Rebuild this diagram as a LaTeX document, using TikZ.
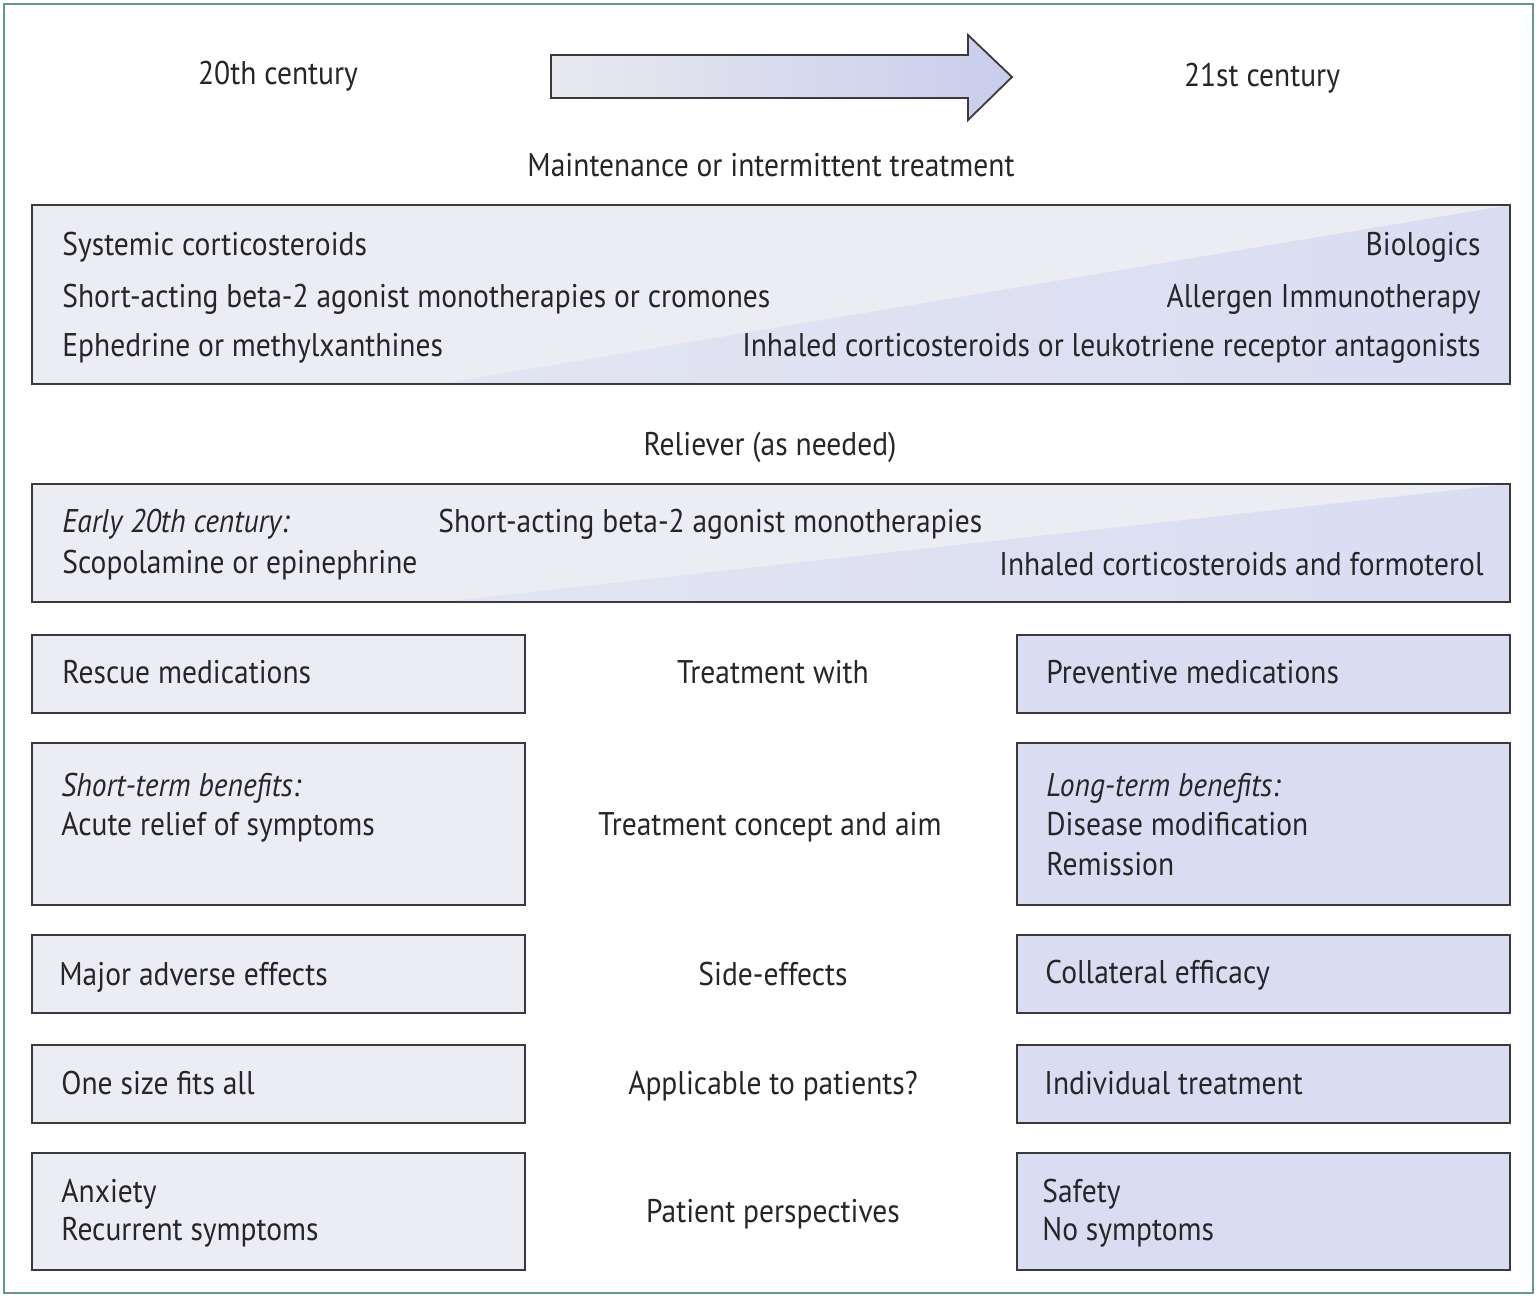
\documentclass[tikz,border=0pt]{standalone}
\usepackage{fontspec}
\setmainfont{PT Sans}[FakeStretch=0.9]
\usetikzlibrary{fit}
\definecolor{frame}{HTML}{5E9A8A}
\definecolor{ink}{HTML}{26262A}
\definecolor{edge}{HTML}{3A3A3E}
\definecolor{grayfill}{HTML}{ECEDF2}
\definecolor{lavfill}{HTML}{DADDF2}
\definecolor{arrowL}{HTML}{E8E9EF}
\definecolor{arrowR}{HTML}{C9CDEC}
\tikzset{
  txt/.style={font=\fontsize{16.4}{19}\selectfont, text=ink, inner sep=0pt, yshift=-3.1pt},
  lbl/.style={txt, anchor=mid west},
  rlbl/.style={txt, anchor=mid east},
  clbl/.style={txt, anchor=mid},
  leftbox/.style={draw=edge, line width=1pt, fill=grayfill, inner sep=0pt},
  rightbox/.style={draw=edge, line width=1pt, fill=lavfill, inner sep=0pt},
  band/.style={draw=edge, line width=1pt, inner sep=0pt},
}
\begin{document}
\begin{tikzpicture}[x=0.5pt,y=-0.5pt]
\useasboundingbox (0,0) rectangle (1537,1297);
\fill[white] (0,0) rectangle (1537,1297);
% outer frame
\node[draw=frame, line width=1.1pt, inner sep=0pt, fit={(4,4)(1533,1293)}] (frame) {};

% headline with arrow
\node[clbl] (c20) at (278,73) {20th century};
\node[clbl] (c21) at (1262,75) {21st century};
\shade[left color=arrowL, right color=arrowR, draw=edge, line width=0.9pt, line join=miter]
  (551,55) -- (968,55) -- (968,35) -- (1012,77) -- (968,120) -- (968,98) -- (551,98) -- cycle;
\coordinate (tip) at (1012,77);

% maintenance band
\node[clbl] (maint) at (771,165) {Maintenance or intermittent treatment};
\fill[grayfill] (32,205) rectangle (1510,384);
\shade[left color=lavfill!55!grayfill, right color=lavfill] (440,384) -- (1510,205) -- (1510,384) -- cycle;
\node[band, fit={(32,205)(1510,384)}] (mband) {};
\node[lbl] (m1) at (62,244) {Systemic corticosteroids};
\node[lbl] (m2) at (62,296) {Short-acting beta-2 agonist monotherapies or cromones};
\node[lbl] (m3) at (62,345) {Ephedrine or methylxanthines};
\node[rlbl] (m4) at (1481,244) {Biologics};
\node[rlbl] (m5) at (1481,296) {Allergen Immunotherapy};
\node[rlbl] (m6) at (1481,345) {Inhaled corticosteroids or leukotriene receptor antagonists};

% reliever band
\node[clbl] (rel) at (770,444) {Reliever (as needed)};
\fill[grayfill] (32,484) rectangle (1510,602);
\shade[left color=lavfill!55!grayfill, right color=lavfill] (440,602) -- (1510,484) -- (1510,602) -- cycle;
\node[band, fit={(32,484)(1510,602)}] (rband) {};
\node[lbl] (r1) at (62,521) {\itshape Early 20th century:};
\node[lbl] (r2) at (62,562) {Scopolamine or epinephrine};
\node[lbl] (r3) at (438,521) {Short-acting beta-2 agonist monotherapies};
\node[rlbl] (r4) at (1484,564) {Inhaled corticosteroids and formoterol};

% comparison rows
\node[leftbox,  fit={(32,635)(525,713)}] (b1l) {};
\node[rightbox, fit={(1017,635)(1510,713)}] (b1r) {};
\node[lbl] at (62,672) {Rescue medications};
\node[clbl] (t1) at (773,672) {Treatment with};
\node[lbl] at (1046,672) {Preventive medications};

\node[leftbox,  fit={(32,743)(525,905)}] (b2l) {};
\node[rightbox, fit={(1017,743)(1510,905)}] (b2r) {};
\node[lbl] at (61,785) {\itshape Short-term benefits:};
\node[lbl] at (61,824) {Acute relief of symptoms};
\node[clbl] (t2) at (770,824) {Treatment concept and aim};
\node[lbl] at (1046,785) {\itshape Long-term benefits:};
\node[lbl] at (1046,824) {Disease modification};
\node[lbl] at (1046,864) {Remission};

\node[leftbox,  fit={(32,935)(525,1013)}] (b3l) {};
\node[rightbox, fit={(1017,935)(1510,1013)}] (b3r) {};
\node[lbl] at (59,974) {Major adverse effects};
\node[clbl] (t3) at (773,974) {Side-effects};
\node[lbl] at (1045,972) {Collateral efficacy};

\node[leftbox,  fit={(32,1045)(525,1123)}] (b4l) {};
\node[rightbox, fit={(1017,1045)(1510,1123)}] (b4r) {};
\node[lbl] at (61,1083) {One size fits all};
\node[clbl] (t4) at (773,1083) {Applicable to patients?};
\node[lbl] at (1044,1083) {Individual treatment};

\node[leftbox,  fit={(32,1153)(525,1270)}] (b5l) {};
\node[rightbox, fit={(1017,1153)(1510,1270)}] (b5r) {};
\node[lbl] at (61,1191) {Anxiety};
\node[lbl] at (61,1229) {Recurrent symptoms};
\node[clbl] (t5) at (773,1211) {Patient perspectives};
\node[lbl] at (1042,1191) {Safety};
\node[lbl] at (1042,1229) {No symptoms};
\end{tikzpicture}
\end{document}
